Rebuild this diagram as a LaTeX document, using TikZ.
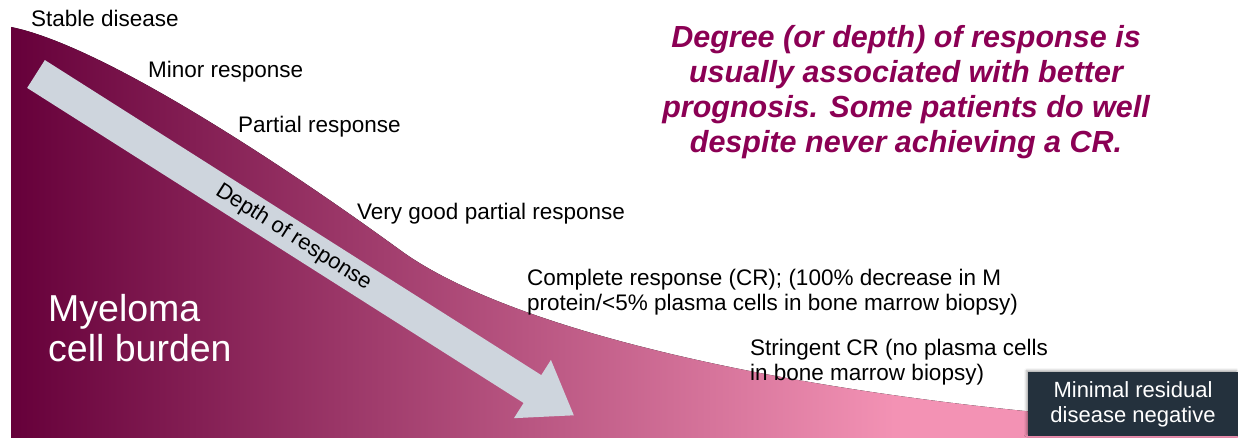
\documentclass[tikz,border=0pt]{standalone}
\usepackage{fontspec}
\setmainfont{Liberation Sans}
\usetikzlibrary{shadows.blur}

\definecolor{myeldark}{RGB}{102,0,58}
\definecolor{myelpink}{RGB}{243,146,180}
\definecolor{arrowgray}{RGB}{206,213,221}
\definecolor{notemaroon}{RGB}{139,0,84}
\definecolor{boxslate}{RGB}{36,49,61}

% dark on the left, pink from about three quarters of the way on
\pgfdeclarehorizontalshading{burden}{100bp}{color(0bp)=(myeldark); color(25bp)=(myeldark); color(61bp)=(myelpink); color(100bp)=(myelpink)}

\begin{document}
\begin{tikzpicture}[
	x=1pt, y=-1pt,
	level/.style={
		anchor=base west,
		align=left,
		inner sep=0pt,
		font=\fontsize{22.5}{25}\selectfont
	},
	levelpair/.style={
		anchor=west,
		align=left,
		inner sep=0pt,
		font=\fontsize{22.5}{25}\selectfont
	},
	burdentext/.style={
		anchor=west,
		align=left,
		inner sep=0pt,
		text=white,
		font=\fontsize{37.5}{40}\selectfont
	},
	note/.style={
		align=center,
		inner sep=0pt,
		text=notemaroon,
		font=\fontsize{30.5}{35}\selectfont\bfseries\itshape
	},
	mrdbox/.style={
		rectangle,
		fill=boxslate,
		text=white,
		align=center,
		minimum width=210,
		minimum height=64,
		font=\fontsize{22}{25}\selectfont,
		blur shadow={shadow xshift=-1.5pt, shadow yshift=1.5pt, shadow blur radius=2.5pt, shadow opacity=35}
	},
]
\useasboundingbox (0,0) rectangle (1238,438);

% Cell burden curve
\fill[shading=burden] (11,438) -- (11,27)
	.. controls (100,45) and (275,159) .. (400,250)
	.. controls (530,345) and (888,412) .. (1238,426)
	-- (1238,438) -- cycle;

% Depth arrow
\begin{scope}[shift={(36,74)}, rotate=-32.4]
	\fill[arrowgray] (0,-16.5) -- (588,-16.5) -- (588,-34.5) -- (637,0)
		-- (588,34.5) -- (588,16.5) -- (0,16.5) -- cycle;
	\node[rotate=-32.4, font=\fontsize{22}{25}\selectfont] (depth) at (305,0) {Depth of response};
\end{scope}

% Response levels
\node[level] (stable) at (31,27) {Stable disease};
\node[level] (minor) at (148,78) {Minor response};
\node[level] (partial) at (238,133) {Partial response};
\node[level] (vgpr) at (357,219) {Very good partial response};
\node[levelpair] (cr) at (527,292) {Complete response (CR); (100\% decrease in M\\protein/<5\% plasma cells in bone marrow biopsy)};
\node[levelpair] (scr) at (750,362) {Stringent CR (no plasma cells\\in bone marrow biopsy)};

\node[burdentext] (burden) at (48,328) {Myeloma\\cell burden};

\node[note] (prognosis) at (906,92) {Degree (or depth) of response is\\usually associated with better\\prognosis. Some patients do well\\despite never achieving a CR.};

\node[mrdbox] (mrd) at (1133,404) {Minimal residual\\disease negative};

\end{tikzpicture}
\end{document}
